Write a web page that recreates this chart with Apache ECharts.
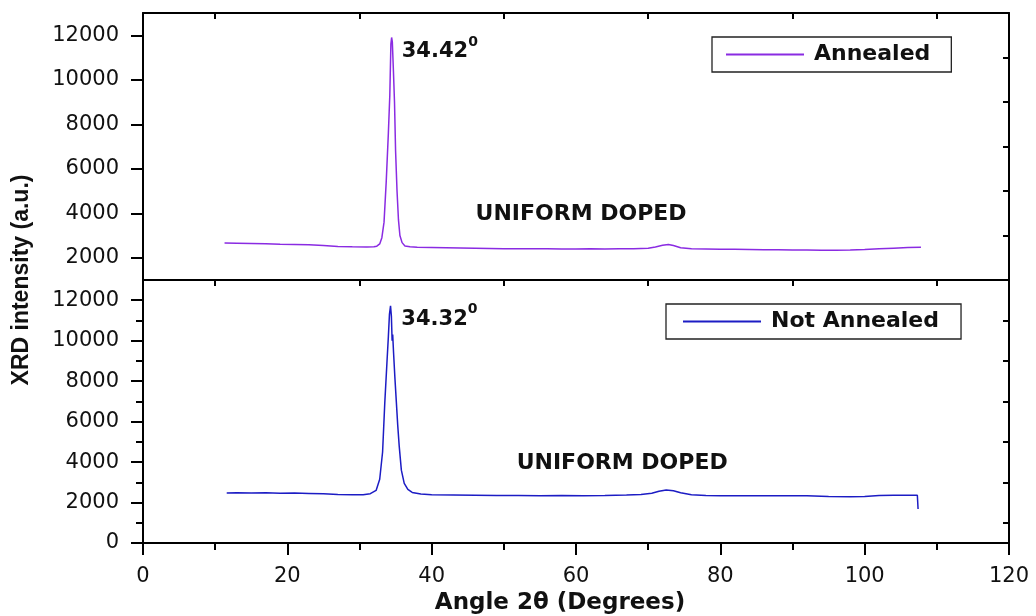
<!DOCTYPE html>
<html>
<head>
<meta charset="utf-8">
<script src="https://cdn.jsdelivr.net/npm/echarts@6/dist/echarts.min.js"></script>
<style>html,body{margin:0;padding:0;background:#fff;}#c{width:1036px;height:616px;}</style>
</head>
<body>
<div id="c"></div>
<script>
// ---- data ----
const seriesNames = ['Annealed', 'Not Annealed'];
const annealedAngle = [11.3,13,15,17,19,21,23,25,27,29,31,32,32.4,32.8,33.1,33.4,33.7,34.0,34.2,34.35,34.45,34.55,34.7,34.85,35.0,35.2,35.4,35.6,35.9,36.3,37,38,40,42,44,46,48,50,52,54,56,58,60,62,64,66,68,70,71,72,72.8,73.5,74.5,76,78,80,82,84,86,88,90,92,94,96,98,100,102,104,106,107.8];
const annealedIntensity = [2660,2650,2640,2630,2610,2600,2580,2550,2510,2490,2480,2490,2520,2620,2900,3600,5400,7600,9300,11600,11900,11700,10400,9000,6800,5000,3700,3000,2680,2530,2490,2470,2460,2450,2440,2430,2420,2410,2410,2400,2400,2390,2390,2400,2390,2400,2410,2430,2480,2560,2600,2550,2450,2400,2390,2380,2380,2370,2360,2360,2350,2350,2340,2340,2350,2370,2400,2430,2460,2470];
const notAnnealedAngle = [11.6,13,15,17,19,21,23,25,27,29,30.5,31.5,32.3,32.8,33.2,33.5,33.8,34.0,34.15,34.3,34.42,34.52,34.6,34.72,34.9,35.1,35.3,35.5,35.8,36.2,36.7,37.3,38.5,40,43,46,49,52,55,58,61,64,67,69,70.5,71.5,72.5,73.5,74.5,76,78,80,83,86,89,92,95,98,100,102,104,106,107.3,107.4];
const notAnnealedIntensity = [2470,2480,2470,2480,2460,2470,2450,2430,2400,2380,2390,2440,2600,3150,4500,6900,8900,10200,11300,11720,11200,10000,10300,9400,8200,7000,5800,4800,3600,2950,2650,2500,2420,2380,2370,2360,2350,2350,2340,2350,2340,2350,2370,2400,2460,2560,2620,2580,2480,2390,2350,2340,2340,2330,2340,2340,2300,2290,2300,2350,2360,2360,2360,1680];
const xTickLabels = [0,20,40,60,80,100,120];
const yTopTicks = [2000,4000,6000,8000,10000,12000];
const yBottomTicks = [0,2000,4000,6000,8000,10000,12000];
const yBottomMinor = [1000,3000,5000,7000,9000,11000];
const yTopMirror = [3000,5000,7000,9000,11000];
const xMirror = [10,30,50,70,90,110];
const peakLabels = ['34.42', '34.32'];
const peakLabelPos = [[35.85, 11250], [35.8, 11050]];
const noteText = 'UNIFORM DOPED';
const notePos = [[60.7, 3940], [66.4, 3955]];

const colors = ['#8a2be2', '#1c1cc4'];
const FONT = 'DejaVu Sans';
const BLACK = '#000';

function zip(a, b) { return a.map((v, i) => [v, b[i]]); }
const plain = v => String(v);

function baseX(grid, pos) {
  return { type: 'value', gridIndex: grid, position: pos, min: 0, max: 120,
    axisLine: { show: true, onZero: false, lineStyle: { color: BLACK, width: 2 } },
    splitLine: { show: false }, axisLabel: { show: false }, axisTick: { show: false } };
}
function baseY(grid, pos, min, max) {
  return { type: 'value', gridIndex: grid, position: pos, min: min, max: max,
    axisLine: { show: true, onZero: false, lineStyle: { color: BLACK, width: 2 } },
    splitLine: { show: false }, axisLabel: { show: false }, axisTick: { show: false } };
}

const labelStyle = { show: true, fontFamily: FONT, fontSize: 21, color: '#111', formatter: plain };

const xAxes = [
  baseX(0, 'bottom'),
  Object.assign(baseX(0, 'top'), { axisTick: { show: true, inside: true, length: 6, customValues: xMirror, lineStyle: { color: BLACK, width: 2 } } }),
  Object.assign(baseX(1, 'bottom'), {
    interval: 20,
    axisTick: { show: true, length: 12, lineStyle: { color: BLACK, width: 2 } },
    minorTick: { show: true, splitNumber: 2, length: 7, lineStyle: { color: BLACK, width: 2 } },
    axisLabel: Object.assign({}, labelStyle, { margin: 23, customValues: xTickLabels })
  }),
  Object.assign(baseX(1, 'top'), { axisTick: { show: true, inside: true, length: 6, customValues: xMirror, lineStyle: { color: BLACK, width: 2 } } })
];

const yAxes = [
  Object.assign(baseY(0, 'left', 1000, 13000), {
    axisTick: { show: true, length: 12, customValues: yTopTicks, lineStyle: { color: BLACK, width: 2 } },
    axisLabel: Object.assign({}, labelStyle, { margin: 24, customValues: yTopTicks })
  }),
  Object.assign(baseY(0, 'right', 1000, 13000), {
    axisTick: { show: true, inside: true, length: 6, customValues: yTopMirror, lineStyle: { color: BLACK, width: 2 } }
  }),
  Object.assign(baseY(1, 'left', 0, 13000), {
    axisTick: { show: true, length: 12, customValues: yBottomTicks, lineStyle: { color: BLACK, width: 2 } },
    axisLabel: Object.assign({}, labelStyle, { margin: 24, customValues: yBottomTicks })
  }),
  Object.assign(baseY(1, 'left', 0, 13000), {
    axisLine: { show: false },
    axisTick: { show: true, length: 7, customValues: yBottomMinor, lineStyle: { color: BLACK, width: 2 } }
  }),
  Object.assign(baseY(1, 'right', 0, 13000), {
    axisTick: { show: true, inside: true, length: 6, customValues: yBottomMinor, lineStyle: { color: BLACK, width: 2 } }
  })
];

function peakMark(i) {
  return {
    symbol: 'circle', symbolSize: 0, silent: true,
    data: [
      { coord: peakLabelPos[i], value: peakLabels[i],
        label: { show: true, position: 'right', distance: 0,
          formatter: '{a|' + peakLabels[i] + '}{b|0}',
          rich: {
            a: { fontFamily: FONT, fontWeight: 'bold', fontSize: 21, color: '#111', lineHeight: 34 },
            b: { fontFamily: FONT, fontWeight: 'bold', fontSize: 14, color: '#111', lineHeight: 14, verticalAlign: 'top' }
          } } },
      { coord: notePos[i], value: noteText,
        label: { show: true, position: 'inside', formatter: noteText,
          fontFamily: FONT, fontWeight: 'bold', fontSize: 22, color: '#111' } }
    ]
  };
}

const legendText = { fontFamily: FONT, fontWeight: 'bold', fontSize: 22, color: '#111', padding: [0, 0, 0, 5], lineHeight: 23 };

const option = {
  animation: false,
  backgroundColor: '#fff',
  grid: [
    { left: 143, right: 27, top: 13, height: 267 },
    { left: 143, right: 27, top: 280, height: 263 }
  ],
  xAxis: xAxes,
  yAxis: yAxes,
  legend: [
    { data: [seriesNames[0]], left: 712, top: 37, orient: 'horizontal', itemWidth: 78, itemHeight: 14,
      itemStyle: { opacity: 0 },
      padding: [6, 21, 6, 13], borderColor: '#222', borderWidth: 1.3, textStyle: legendText },
    { data: [seriesNames[1]], left: 666, top: 304, orient: 'horizontal', itemWidth: 78, itemHeight: 14,
      itemStyle: { opacity: 0 },
      padding: [6, 22, 6, 16], borderColor: '#222', borderWidth: 1.3, textStyle: legendText }
  ],
  graphic: [
    { type: 'text', x: 22, y: 280, rotation: Math.PI / 2,
      style: { text: 'XRD intensity (a.u.)', font: 'bold 23px "Liberation Sans", Arial, sans-serif', fill: '#111', textAlign: 'center', textVerticalAlign: 'middle' } },
    { type: 'text', x: 560, y: 603,
      style: { text: 'Angle 2θ (Degrees)', font: 'bold 23px "DejaVu Sans", sans-serif', fill: '#111', textAlign: 'center', textVerticalAlign: 'middle' } }
  ],
  series: [
    { name: seriesNames[0], type: 'line', xAxisIndex: 0, yAxisIndex: 0, symbol: 'none', showSymbol: false,
      color: colors[0], lineStyle: { color: colors[0], width: 1.5 },
      data: zip(annealedAngle, annealedIntensity), markPoint: peakMark(0) },
    { name: seriesNames[1], type: 'line', xAxisIndex: 2, yAxisIndex: 2, symbol: 'none', showSymbol: false,
      color: colors[1], lineStyle: { color: colors[1], width: 1.5 },
      data: zip(notAnnealedAngle, notAnnealedIntensity), markPoint: peakMark(1) }
  ]
};

const chart = echarts.init(document.getElementById('c'));
chart.setOption(option);
</script>
</body>
</html>
